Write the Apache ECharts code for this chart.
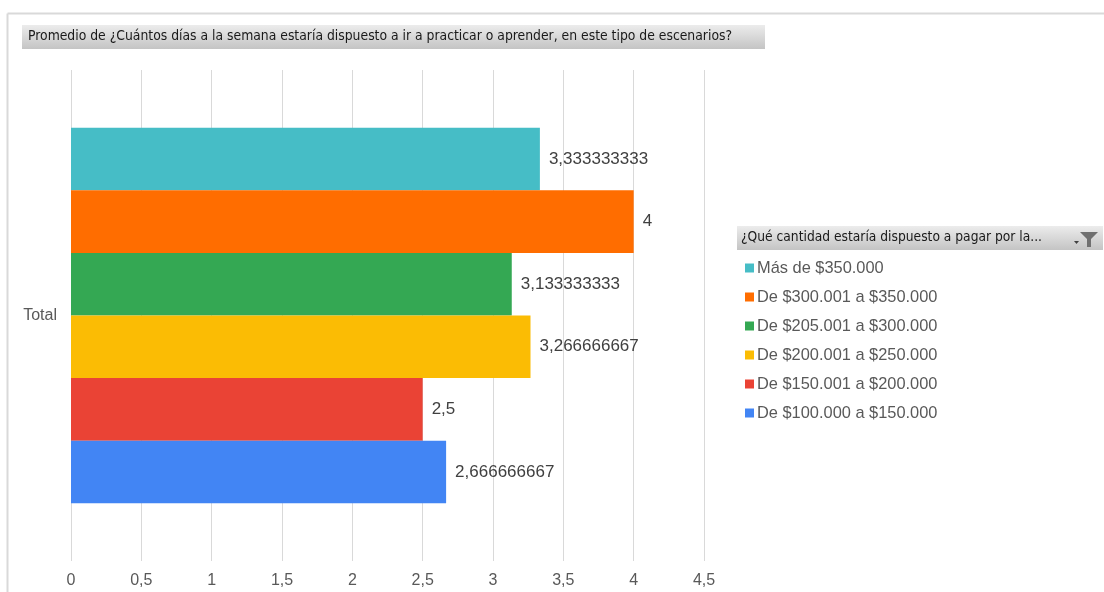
<!DOCTYPE html>
<html>
<head>
<meta charset="utf-8">
<script src="https://cdn.jsdelivr.net/npm/echarts@6/dist/echarts.min.js"></script>
<style>
  html, body { margin: 0; padding: 0; background: #ffffff; }
  #chart { width: 1104px; height: 592px; }
</style>
</head>
<body>
<div id="chart"></div>
<script>
// Pivot: average days per week, grouped by price range
const chartTitle = 'Promedio de ¿Cuántos días a la semana estaría dispuesto a ir a practicar o aprender, en este tipo de escenarios?';
const legendTitle = '¿Qué cantidad estaría dispuesto a pagar por la...';
const categories = ['Total'];
const seriesNames = [
  'Más de $350.000',
  'De $300.001 a $350.000',
  'De $205.001 a $300.000',
  'De $200.001 a $250.000',
  'De $150.001 a $200.000',
  'De $100.000 a $150.000'
];
const seriesValues = [
  3.333333333,
  4,
  3.133333333,
  3.266666667,
  2.5,
  2.666666667
];
const seriesColors = ['#46BDC6', '#FF6D00', '#34A853', '#FBBC04', '#EA4335', '#4285F4'];
const xTicks = { min: 0, max: 4.5, interval: 0.5 };

const fmtComma = v => String(v).replace('.', ',');

const chart = echarts.init(document.getElementById('chart'), null, { renderer: 'canvas' });

const headerGradient = new echarts.graphic.LinearGradient(0, 0, 0, 1, [
  { offset: 0, color: '#ececec' },
  { offset: 1, color: '#c4c4c4' }
]);

const series = seriesNames.map((name, i) => ({
  name: name,
  type: 'bar',
  data: [seriesValues[i]],
  itemStyle: { color: seriesColors[i] },
  barGap: '0%',
  barCategoryGap: '23.5%',
  label: {
    show: true,
    position: 'right',
    distance: 9,
    color: '#404040',
    fontSize: 17,
    fontFamily: 'Liberation Sans, Arial, sans-serif',
    formatter: p => fmtComma(p.value)
  }
}));

chart.setOption({
  animation: false,
  backgroundColor: '#ffffff',
  grid: { left: 71, right: 400, top: 70, bottom: 31, containLabel: false },
  xAxis: {
    type: 'value',
    min: xTicks.min,
    max: xTicks.max,
    interval: xTicks.interval,
    axisLine: { show: false },
    axisTick: { show: false },
    splitLine: { lineStyle: { color: '#d9d9d9', width: 1 } },
    axisLabel: {
      color: '#595959',
      fontSize: 16,
      margin: 12,
      fontFamily: 'Liberation Sans, Arial, sans-serif',
      formatter: v => fmtComma(v)
    }
  },
  yAxis: {
    type: 'category',
    data: categories,
    inverse: true,
    axisLine: { show: false },
    axisTick: { show: false },
    axisLabel: {
      color: '#595959',
      fontSize: 16,
      margin: 14,
      fontFamily: 'Liberation Sans, Arial, sans-serif'
    }
  },
  legend: {
    data: seriesNames,
    orient: 'vertical',
    left: 740,
    top: 255,
    itemWidth: 9,
    itemHeight: 9,
    itemGap: 13,
    icon: 'rect',
    selectedMode: false,
    textStyle: {
      color: '#595959',
      fontSize: 16.4,
      lineHeight: 16,
      fontFamily: 'Liberation Sans, Arial, sans-serif',
      padding: [0, 0, 0, -2]
    }
  },
  graphic: [
    // outer frame
    { type: 'line', shape: { x1: 7.5, y1: 13.5, x2: 1104, y2: 13.5 }, style: { stroke: '#d9d9d9', lineWidth: 2 }, silent: true },
    { type: 'line', shape: { x1: 7.5, y1: 13.5, x2: 7.5, y2: 592 }, style: { stroke: '#d9d9d9', lineWidth: 2 }, silent: true },
    // chart title box
    { type: 'rect', shape: { x: 22, y: 25, width: 743, height: 24 }, style: { fill: headerGradient }, silent: true },
    {
      type: 'text', left: 28, top: 29, silent: true,
      style: { text: chartTitle, fill: '#1a1a1a', fontSize: 13.8, fontFamily: 'DejaVu Sans Condensed, sans-serif' }
    },
    // legend header box
    { type: 'rect', shape: { x: 737, y: 226, width: 366, height: 24 }, style: { fill: headerGradient }, silent: true },
    {
      type: 'text', left: 741, top: 230, silent: true,
      style: { text: legendTitle, fill: '#1a1a1a', fontSize: 13.7, fontFamily: 'DejaVu Sans Condensed, sans-serif' }
    },
    // filter icon
    {
      type: 'polygon', silent: true,
      shape: { points: [[1080, 232], [1098, 232], [1091, 239], [1091, 247], [1087, 247], [1087, 239]] },
      style: { fill: '#707070' }
    },
    {
      type: 'polygon', silent: true,
      shape: { points: [[1074, 241], [1079, 241], [1076.5, 244]] },
      style: { fill: '#404040' }
    }
  ],
  series: series
});
</script>
</body>
</html>
